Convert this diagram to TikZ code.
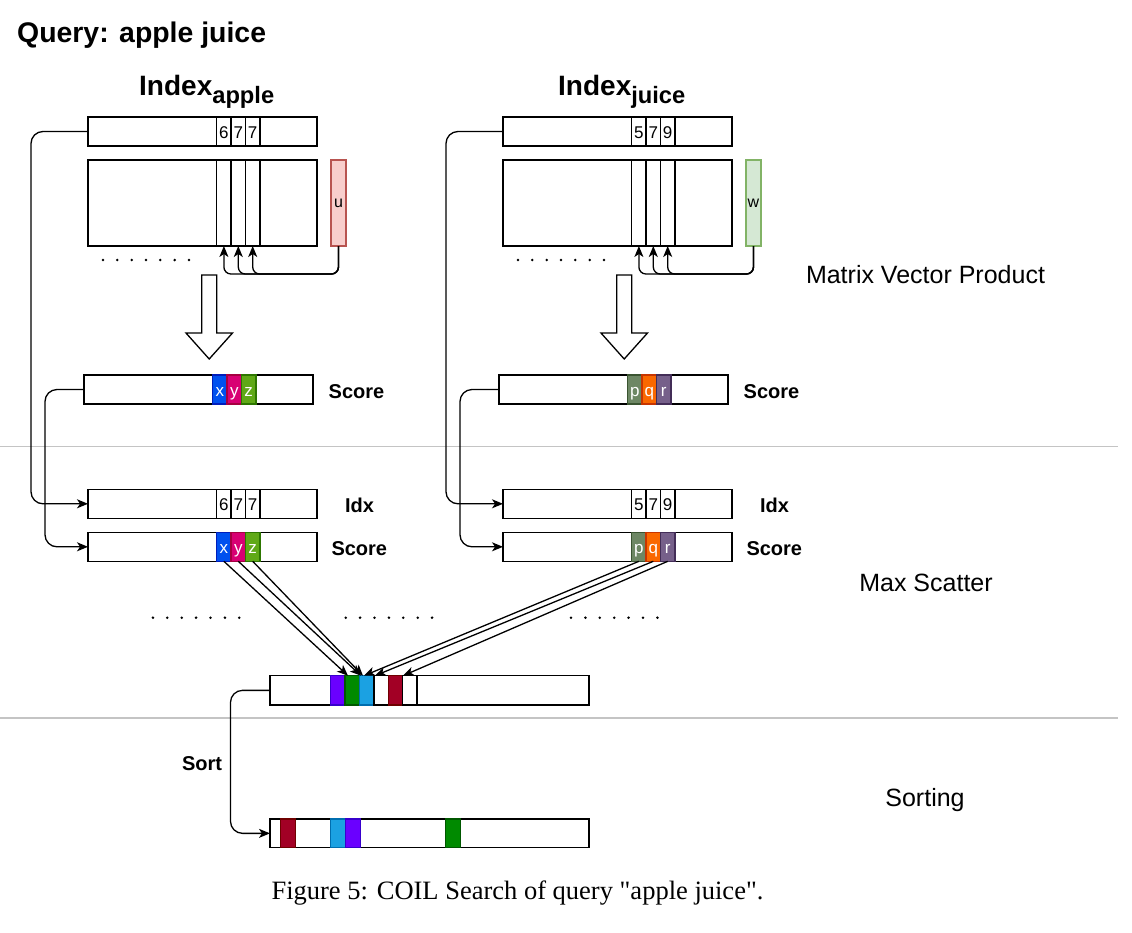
\documentclass[tikz,border=0pt]{standalone}
\usepackage{fontspec}
\setmainfont{Liberation Sans}
\newfontfamily\capfont{Liberation Serif}
\usetikzlibrary{arrows.meta}
\definecolor{fx}{HTML}{0050EF}\definecolor{dx}{HTML}{001DBC}
\definecolor{fy}{HTML}{D80073}\definecolor{dy}{HTML}{A50040}
\definecolor{fz}{HTML}{60A917}\definecolor{dz}{HTML}{2D7600}
\definecolor{fp}{HTML}{6D8764}\definecolor{dp}{HTML}{3A5431}
\definecolor{fq}{HTML}{FA6800}\definecolor{dq}{HTML}{C73500}
\definecolor{fr}{HTML}{76608A}\definecolor{dr}{HTML}{432D57}
\definecolor{uf}{HTML}{F8CECC}\definecolor{ud}{HTML}{B85450}
\definecolor{wf}{HTML}{D5E8D4}\definecolor{wd}{HTML}{82B366}
\definecolor{fP}{HTML}{6A00FF}\definecolor{dP}{HTML}{3700CC}
\definecolor{fG}{HTML}{008A00}\definecolor{dG}{HTML}{005700}
\definecolor{fC}{HTML}{1BA1E2}\definecolor{dC}{HTML}{006EAF}
\definecolor{fR}{HTML}{A20025}\definecolor{dR}{HTML}{6F0000}
\definecolor{sepgray}{HTML}{C4C4C4}
\begin{document}
\begin{tikzpicture}[x=1pt,y=-1pt,
  box/.style={draw=black, line width=1.4pt, fill=white, inner sep=0pt, outer sep=0pt, anchor=north west},
  rowbox/.style={box, minimum width=229pt, minimum height=29pt},
  cellbox/.style={box, minimum width=14.4pt, minimum height=29pt, font=\fontsize{17}{17}\selectfont, text height=15pt, text depth=1pt},
  colbox/.style={box, fill=none, minimum width=14.4pt, minimum height=86pt},
  conn/.style={line width=1.3pt, rounded corners=12pt, -{Stealth[length=11pt,width=9pt,inset=3pt]}},
  lab/.style={anchor=base, inner sep=0pt, font=\fontsize{20}{24}\selectfont\bfseries},
  stage/.style={anchor=base, inner sep=0pt, font=\fontsize{25}{30}\selectfont},
  sepline/.style={draw=sepgray, line width=1.3pt},
  blockarrow/.style={draw=black, line width=1.3pt, fill=white},
]
\useasboundingbox (0,0) rectangle (1132,932);

% section separators
\draw[sepline] (0,446.7) -- (1118,446.7);
\draw[sepline] (0,718) -- (1118,718);

% title
\node[anchor=base west, inner sep=0pt, font=\fontsize{28.4}{30}\selectfont\bfseries] (query) at (17,42) {Query: apple juice};

\foreach \s/\dx/\tx/\sub/\da/\db/\dc/\v/\vf/\vd/\la/\lb/\lc in
  {A/0/139/apple/6/7/7/u/uf/ud/x/y/z, B/415/558/juice/5/7/9/w/wf/wd/p/q/r}{
  % index title
  \node[anchor=base west, inner sep=0pt, font=\fontsize{28}{30}\selectfont\bfseries] (ti\s) at (\tx,95.5)
    {Index\raisebox{-7.5pt}{\fontsize{23.7}{26}\selectfont\sub}};
  % index row
  \node[rowbox] (idx\s) at (88+\dx,117) {};
  \node[cellbox] (ic\s1) at (216.7+\dx,117) {\da};
  \node[cellbox] (ic\s2) at (231.1+\dx,117) {\db};
  \node[cellbox] (ic\s3) at (245.5+\dx,117) {\dc};
  % matrix
  \node[box, minimum width=229pt, minimum height=86pt] (mat\s) at (88+\dx,160) {};
  \node[colbox] (mc\s1) at (216.7+\dx,160) {};
  \node[colbox] (mc\s2) at (231.1+\dx,160) {};
  \node[colbox] (mc\s3) at (245.5+\dx,160) {};
  % query vector
  \node[box, fill=\vf, draw=\vd, minimum width=15pt, minimum height=86pt, font=\fontsize{16}{16}\selectfont] (vec\s) at (331+\dx,160) {\v};
  \foreach \k in {1,2,3}{
    \draw[conn, rounded corners=7pt] (vec\s.south) -- ++(0,28) -| (mc\s\k.south);
  }
  % dots
  \foreach \i in {0,...,6}{ \fill (103+\dx+14.33*\i,260) circle (1.4pt); }
  % block arrow
  \draw[blockarrow] (201.7+\dx,275) -- (216.7+\dx,275) -- (216.7+\dx,333) -- (232.5+\dx,333)
     -- (209.2+\dx,359) -- (186+\dx,333) -- (201.7+\dx,333) -- cycle;
  % score row
  \node[rowbox] (sc\s) at (84+\dx,375) {};
  \node[cellbox, fill=f\la, draw=d\la, text=white] (sa\s1) at (212.7+\dx,375) {\la};
  \node[cellbox, fill=f\lb, draw=d\lb, text=white] (sa\s2) at (227.1+\dx,375) {\lb};
  \node[cellbox, fill=f\lc, draw=d\lc, text=white] (sa\s3) at (241.5+\dx,375) {\lc};
  \node[lab] (scl\s) at (356.5+\dx,398) {Score};
  % idx row (scatter)
  \node[rowbox] (idxb\s) at (88+\dx,489.3) {};
  \node[cellbox] (ib\s1) at (216.7+\dx,489.3) {\da};
  \node[cellbox] (ib\s2) at (231.1+\dx,489.3) {\db};
  \node[cellbox] (ib\s3) at (245.5+\dx,489.3) {\dc};
  \node[lab] (idl\s) at (359.5+\dx,512) {Idx};
  % score row (scatter)
  \node[rowbox] (scb\s) at (88+\dx,532.3) {};
  \node[cellbox, fill=f\la, draw=d\la, text=white] (sb\s1) at (216.7+\dx,532.3) {\la};
  \node[cellbox, fill=f\lb, draw=d\lb, text=white] (sb\s2) at (231.1+\dx,532.3) {\lb};
  \node[cellbox, fill=f\lc, draw=d\lc, text=white] (sb\s3) at (245.5+\dx,532.3) {\lc};
  \node[lab] (sbl\s) at (359.3+\dx,555) {Score};
  % connectors
  \draw[conn] (idx\s.west) -- ++(-57,0) |- (idxb\s.west);
  \draw[conn] (sc\s.west) -- ++(-39,0) |- (scb\s.west);
}

% dots in scatter region
\foreach \x in {152.9,345.7,571}{
  \foreach \i in {0,...,6}{ \fill (\x+14.4*\i,617.7) circle (1.4pt); }
}

% aggregated row
\node[box, minimum width=319pt, minimum height=29.3pt] (agg) at (270,675.7) {};
\node[cellbox, minimum height=29.3pt, fill=fP, draw=dP] (a1) at (330.7,675.7) {};
\node[cellbox, minimum height=29.3pt, fill=fG, draw=dG] (a2) at (345.1,675.7) {};
\node[cellbox, minimum height=29.3pt, fill=fC, draw=dC] (a3) at (359.5,675.7) {};
\node[cellbox, minimum height=29.3pt] (a4) at (373.9,675.7) {};
\node[cellbox, minimum height=29.3pt, fill=fR, draw=dR] (a5) at (388.3,675.7) {};
\node[cellbox, minimum height=29.3pt] (a6) at (402.7,675.7) {};

% scatter arrows
\coordinate (tx) at (348,675.7);
\coordinate (ty) at (361,675.7);
\coordinate (tz) at (363,675.7);
\coordinate (tp) at (364,675.7);
\coordinate (tq) at (375,675.7);
\coordinate (tr) at (403,675.7);
\draw[conn] (sbA1.south) -- (tx);
\draw[conn] (sbA2.south) -- (ty);
\draw[conn] (sbA3.south) -- (tz);
\draw[conn] (sbB1.south) -- (tp);
\draw[conn] (sbB2.south) -- (tq);
\draw[conn] (sbB3.south) -- (tr);

% sorted row
\node[box, minimum width=319pt, minimum height=28.7pt] (srt) at (270,819) {};
\node[cellbox, minimum width=14.8pt, minimum height=28.7pt, fill=fR, draw=dR] (r1) at (280.7,819) {};
\node[cellbox, minimum width=14.8pt, minimum height=28.7pt, fill=fC, draw=dC] (r2) at (330.7,819) {};
\node[cellbox, minimum width=14.8pt, minimum height=28.7pt, fill=fP, draw=dP] (r3) at (345.5,819) {};
\node[cellbox, minimum width=14.8pt, minimum height=28.7pt, fill=fG, draw=dG] (r4) at (445.7,819) {};

\draw[conn] (agg.west) -- ++(-39.5,0) |- (srt.west);
\node[lab] (sortl) at (202,770) {Sort};

% stage labels
\node[stage] (st1) at (925.5,283) {Matrix Vector Product};
\node[stage] (st2) at (926,591) {Max Scatter};
\node[stage] (st3) at (925,806) {Sorting};

% caption
\node[anchor=base, inner sep=0pt, font=\capfont\fontsize{26.5}{30}\selectfont] (cap) at (517.5,899)
  {Figure 5: COIL Search of query "apple juice".};
\end{tikzpicture}
\end{document}
